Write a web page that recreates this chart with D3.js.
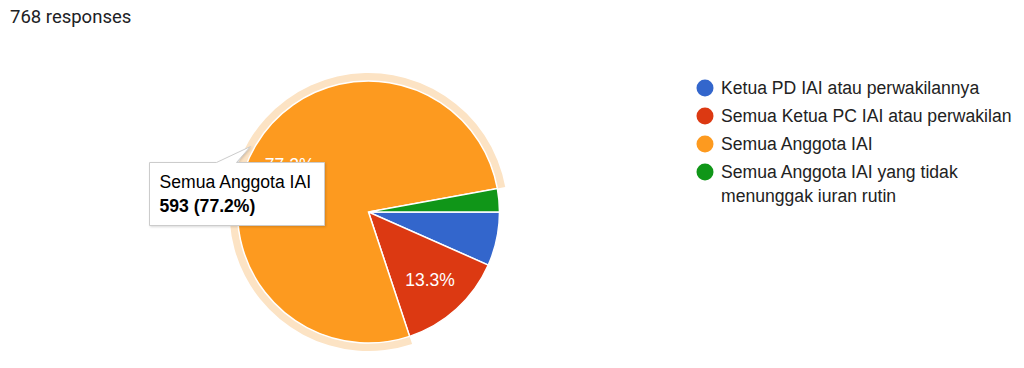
<!DOCTYPE html>
<html>
<head>
<meta charset="utf-8">
<script src="https://cdn.jsdelivr.net/npm/d3@7"></script>
<style>
  body { margin: 0; background: #fff; }
  svg { display: block; }
</style>
</head>
<body>
<div id="chart"></div>
<script>
// data
var totalResponses = 768;
var categories = ["Ketua PD IAI atau perwakilannya", "Semua Ketua PC IAI atau perwakilan", "Semua Anggota IAI", "Semua Anggota IAI yang tidak menunggak iuran rutin"];
var legendLines = [["Ketua PD IAI atau perwakilannya"], ["Semua Ketua PC IAI atau perwakilan"], ["Semua Anggota IAI"], ["Semua Anggota IAI yang tidak", "menunggak iuran rutin"]];
var counts = [51, 102, 593, 22];
var colours = ["#3366cc", "#dc3912", "#fd9a1f", "#109618"];
var highlighted = 2;

var width = 1024, height = 368;
var cx = 368.5, cy = 212, radius = 131;
var font = "'Liberation Sans', Arial, sans-serif";

var svg = d3.select("#chart").append("svg")
    .attr("width", width)
    .attr("height", height);

svg.append("text")
    .attr("x", 10)
    .attr("y", 23)
    .attr("font-family", "Roboto, Arial, sans-serif")
    .attr("font-size", "18.5px")
    .attr("fill", "#202124")
    .text(totalResponses + " responses");

var data = categories.map(function(c, i){ return {name: c, value: counts[i], colour: colours[i], index: i}; });
var total = d3.sum(counts);

var pie = d3.pie()
    .sort(null)
    .value(function(d){ return d.value; })
    .startAngle(Math.PI / 2)
    .endAngle(Math.PI / 2 + 2 * Math.PI);

var arcs = pie(data);

var arc = d3.arc().innerRadius(0).outerRadius(radius);
var halo = d3.arc().innerRadius(radius).outerRadius(radius + 8);
var labelArc = d3.arc().innerRadius(radius * 0.7).outerRadius(radius * 0.7);

var g = svg.append("g").attr("transform", "translate(" + cx + "," + cy + ")");

g.append("path")
    .attr("d", halo(arcs[highlighted]))
    .attr("fill", "#fce3c4");

g.selectAll("path.slice")
    .data(arcs)
    .enter()
    .append("path")
    .attr("class", "slice")
    .attr("d", arc)
    .attr("fill", function(d){ return d.data.colour; })
    .attr("stroke", "#fff")
    .attr("stroke-width", 1.5);

g.selectAll("text.label")
    .data(arcs.filter(function(d){ return d.value / total > 0.1; }))
    .enter()
    .append("text")
    .attr("class", "label")
    .attr("transform", function(d){ return "translate(" + labelArc.centroid(d) + ")"; })
    .attr("text-anchor", "middle")
    .attr("dy", "0.35em")
    .attr("font-family", font)
    .attr("font-size", "17.5px")
    .attr("fill", "#fff")
    .text(function(d){ return (d.value / total * 100).toFixed(1) + "%"; });

// legend
var legend = svg.append("g").attr("transform", "translate(705,88)");
var rowY = 0;
legendLines.forEach(function(lines, i){
    var row = legend.append("g").attr("transform", "translate(0," + rowY + ")");
    row.append("circle").attr("r", 8.5).attr("fill", colours[i]);
    lines.forEach(function(t, j){
        row.append("text")
            .attr("x", 16)
            .attr("y", j * 24)
            .attr("dy", "0.36em")
            .attr("font-family", font)
            .attr("font-size", "17.6px")
            .attr("fill", "#222")
            .text(t);
    });
    rowY += 28;
});

// tooltip for highlighted slice
var tip = svg.append("g").attr("transform", "translate(149.5,162.5)");
var tw = 175, th = 63;
tip.append("path")
    .attr("d", "M0,0 H67 L101,-16 L87,0 H" + tw + " V" + th + " H0 Z")
    .attr("fill", "#fff")
    .attr("stroke", "#cccccc")
    .attr("stroke-width", 1)
    .style("filter", "drop-shadow(1px 1px 1px rgba(0,0,0,0.15))");
tip.append("text")
    .attr("x", 10)
    .attr("y", 25)
    .attr("font-family", font)
    .attr("font-size", "17.6px")
    .attr("fill", "#000")
    .text(categories[highlighted]);
tip.append("text")
    .attr("x", 10)
    .attr("y", 49)
    .attr("font-family", font)
    .attr("font-size", "17.6px")
    .attr("font-weight", "bold")
    .attr("fill", "#000")
    .text(counts[highlighted] + " (" + (counts[highlighted] / total * 100).toFixed(1) + "%)");
</script>
</body>
</html>
